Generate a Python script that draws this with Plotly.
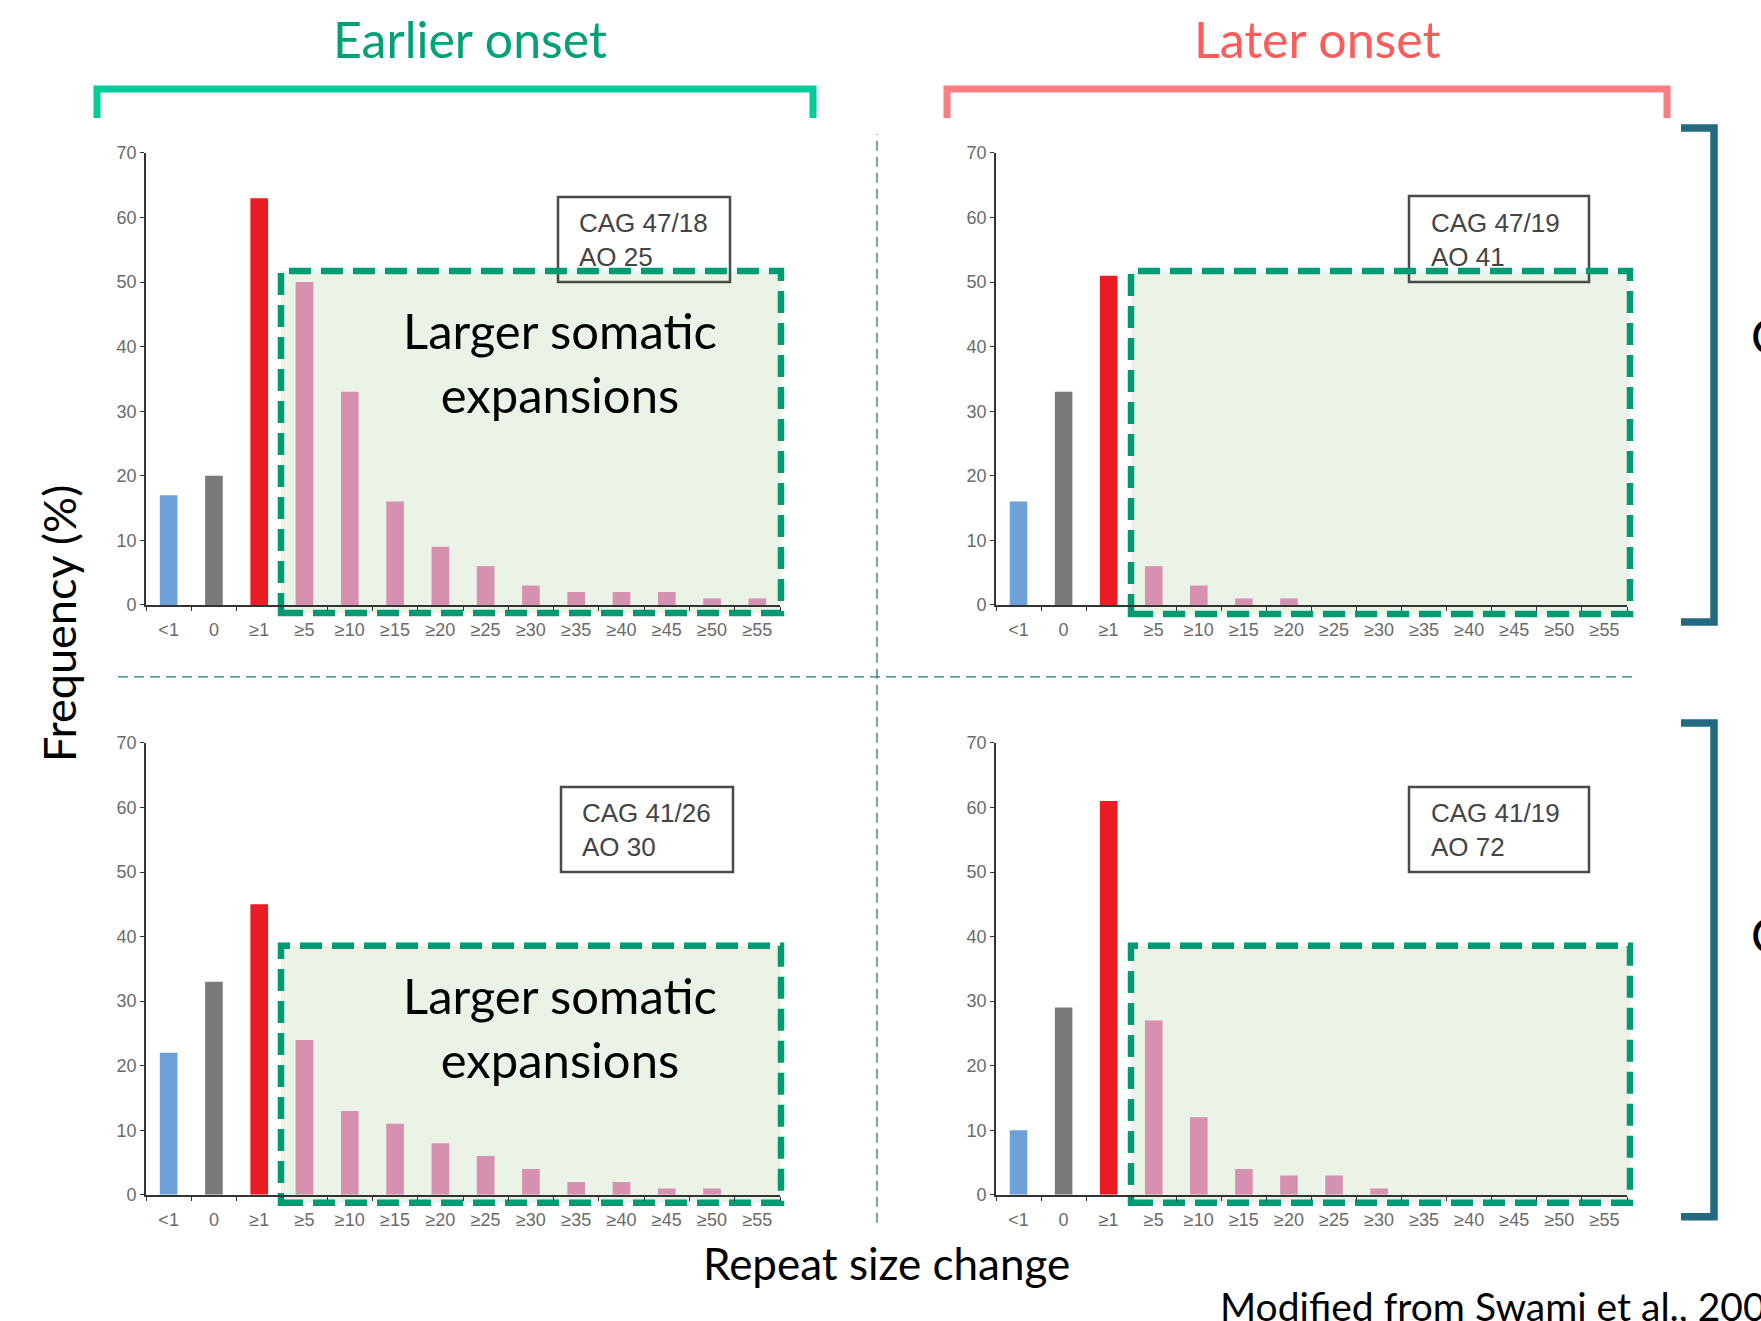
import plotly.graph_objects as go

W, H = 1761, 1321

categories = ["<1", "0", "≥1", "≥5", "≥10", "≥15", "≥20", "≥25", "≥30", "≥35", "≥40", "≥45", "≥50", "≥55"]
top_left = [17, 20, 63, 50, 33, 16, 9, 6, 3, 2, 2, 2, 1, 1]
top_right = [16, 33, 51, 6, 3, 1, 1, 0, 0, 0, 0, 0, 0, 0]
bottom_left = [22, 33, 45, 24, 13, 11, 8, 6, 4, 2, 2, 1, 1, 0]
bottom_right = [10, 29, 61, 27, 12, 4, 3, 3, 1, 0, 0, 0, 0, 0]
panel_labels = ["CAG 47/18<br>AO 25", "CAG 47/19<br>AO 41", "CAG 41/26<br>AO 30", "CAG 41/19<br>AO 72"]
y_ticks = [0, 10, 20, 30, 40, 50, 60, 70]

bar_colors = ["#6EA1DA", "#7A7A7A", "#EC1C24"] + ["#D690B0"] * 11

# small vertical compensation for the capture (content appeared ~1.5% squeezed vertically)
VC, VS = 600.0, 0.985


def px(x):
    return x / W


def py(y):
    yy = VC + (y - VC) / VS
    return 1 - yy / H


fig = go.Figure()

# panel geometry (pixels): x0, x1 of plot area, y top (70), y bottom (0)
panels = [
    (146, 780, 152, 604, top_left),
    (996, 1627, 152, 604, top_right),
    (146, 780, 742, 1194, bottom_left),
    (996, 1627, 742, 1194, bottom_right),
]

tick_font = dict(family="Liberation Sans, Arial", size=18, color="#6A6A6A")

for i, (x0, x1, yt, yb, vals) in enumerate(panels):
    n = i + 1
    xa = "x" if n == 1 else f"x{n}"
    ya = "y" if n == 1 else f"y{n}"
    fig.add_trace(go.Bar(x=categories, y=vals, marker_color=bar_colors, marker_line_width=0,
                         width=0.39, xaxis=xa, yaxis=ya, showlegend=False, hoverinfo="x+y"))
    xk = "xaxis" if n == 1 else f"xaxis{n}"
    yk = "yaxis" if n == 1 else f"yaxis{n}"
    fig.layout[xk] = dict(domain=[px(x0), px(x1)], anchor=ya, type="category",
                          categoryorder="array", categoryarray=categories,
                          range=[-0.5, 13.5], showline=True, linecolor="#333333", linewidth=1.6,
                          ticks="outside", tickson="boundaries", ticklen=4, tickcolor="#333333",
                          tickfont=tick_font, showgrid=False, zeroline=False, fixedrange=True,
                          ticklabelstandoff=8)
    fig.layout[yk] = dict(domain=[py(yb), py(yt)], anchor=xa, range=[0, 70],
                          tickvals=y_ticks, showline=True, linecolor="#333333", linewidth=1.6,
                          ticks="outside", ticklen=4, tickcolor="#333333",
                          tickfont=tick_font, showgrid=False, zeroline=False, fixedrange=True)

shapes = []
annotations = []

# label boxes + green highlighted regions
label_boxes = [(558, 730, 196, 281, 577), (1409, 1589, 195, 281, 1429),
               (561, 733, 786, 871, 580), (1409, 1589, 786, 871, 1429)]
green_boxes = [(281, 781, 270, 612), (1131, 1630, 270, 613),
               (281, 781, 945, 1202), (1131, 1630, 945, 1202)]

for (gx0, gx1, gy0, gy1) in green_boxes:
    shapes.append(dict(type="rect", xref="paper", yref="paper", layer="below",
                       x0=px(gx0), x1=px(gx1), y0=py(gy1), y1=py(gy0),
                       fillcolor="#EBF3E6", line=dict(width=0)))

for (bx0, bx1, by0, by1, tx), lab in zip(label_boxes, panel_labels):
    shapes.append(dict(type="rect", xref="paper", yref="paper", layer="below",
                       x0=px(bx0), x1=px(bx1), y0=py(by1), y1=py(by0),
                       fillcolor="rgba(0,0,0,0)", line=dict(color="#4A4A4A", width=2.5)))
    annotations.append(dict(xref="paper", yref="paper", x=px(tx), y=py((by0 + by1) / 2 + 1),
                            xanchor="left", yanchor="middle", align="left", showarrow=False,
                            text=lab, font=dict(family="Liberation Sans, Arial", size=26, color="#444444")))

for (gx0, gx1, gy0, gy1) in green_boxes:
    shapes.append(dict(type="rect", xref="paper", yref="paper", layer="below",
                       x0=px(gx0), x1=px(gx1), y0=py(gy1), y1=py(gy0),
                       fillcolor="rgba(0,0,0,0)", line=dict(color="#009B72", width=6.5, dash="22px,10px")))

# dividers
shapes.append(dict(type="line", xref="paper", yref="paper", x0=px(877), x1=px(877), y0=py(1222), y1=py(133),
                   line=dict(color="#2E7189", width=1.3, dash="10px,6px")))
shapes.append(dict(type="line", xref="paper", yref="paper", x0=px(118), x1=px(1634), y0=py(676), y1=py(676),
                   line=dict(color="#2E7189", width=1.3, dash="10px,6px")))


def bracket_top(xa, xb, ytop, ybot, color):
    return dict(type="path", xref="paper", yref="paper",
                path=f"M {px(xa)} {py(ybot)} L {px(xa)} {py(ytop)} L {px(xb)} {py(ytop)} L {px(xb)} {py(ybot)}",
                line=dict(color=color, width=7), fillcolor="rgba(0,0,0,0)")


def bracket_right(xs, xv, ya, yb, color):
    return dict(type="path", xref="paper", yref="paper",
                path=f"M {px(xs)} {py(ya)} L {px(xv)} {py(ya)} L {px(xv)} {py(yb)} L {px(xs)} {py(yb)}",
                line=dict(color=color, width=7.5), fillcolor="rgba(0,0,0,0)")


shapes.append(bracket_top(97, 813, 88, 117, "#00CC99"))
shapes.append(bracket_top(947, 1667, 88, 117, "#FF7C80"))
shapes.append(bracket_right(1681, 1714, 127, 621, "#236A80"))
shapes.append(bracket_right(1681, 1714, 722, 1216, "#236A80"))

big = "Lato, Calibri, Carlito, sans-serif"
annotations += [
    dict(xref="paper", yref="paper", x=px(470), y=py(38), text="Earlier onset", showarrow=False,
         xanchor="center", yanchor="middle", font=dict(family=big, size=50, color="#00A078")),
    dict(xref="paper", yref="paper", x=px(1317), y=py(38), text="Later onset", showarrow=False,
         xanchor="center", yanchor="middle", font=dict(family=big, size=50, color="#FF5B5B")),
    dict(xref="paper", yref="paper", x=px(560), y=py(361), text="Larger somatic<br>expansions", showarrow=False,
         xanchor="center", yanchor="middle", font=dict(family=big, size=49, color="#000000")),
    dict(xref="paper", yref="paper", x=px(560), y=py(1026), text="Larger somatic<br>expansions", showarrow=False,
         xanchor="center", yanchor="middle", font=dict(family=big, size=49, color="#000000")),
    dict(xref="paper", yref="paper", x=px(59), y=py(623), text="Frequency (%)", showarrow=False, textangle=-90,
         xanchor="center", yanchor="middle", font=dict(family=big, size=45, color="#000000")),
    dict(xref="paper", yref="paper", x=px(887), y=py(1262), text="Repeat size change", showarrow=False,
         xanchor="center", yanchor="middle", font=dict(family=big, size=44, color="#000000")),
    dict(xref="paper", yref="paper", x=px(1218), y=py(1305), text="Modified from Swami et al., 2009", showarrow=False,
         xanchor="left", yanchor="middle", font=dict(family=big, size=39, color="#000000")),
    dict(xref="paper", yref="paper", x=px(1749), y=py(335), text="CAG 47", showarrow=False,
         xanchor="left", yanchor="middle", font=dict(family=big, size=48, color="#000000")),
    dict(xref="paper", yref="paper", x=px(1749), y=py(934), text="CAG 41", showarrow=False,
         xanchor="left", yanchor="middle", font=dict(family=big, size=48, color="#000000")),
]

fig.update_layout(width=W, height=H, autosize=False, margin=dict(l=0, r=0, t=0, b=0, pad=0),
                  paper_bgcolor="white", plot_bgcolor="rgba(0,0,0,0)",
                  shapes=shapes, annotations=annotations, bargap=0.6, showlegend=False)

page_fix = (
    "var gd=document.getElementById('{plot_id}');"
    "gd.style.position='fixed';gd.style.top='0px';gd.style.left='0px';gd.style.margin='0';"
    "var de=document.documentElement, b=document.body;"
    "de.style.margin='0';de.style.padding='0';b.style.margin='0';b.style.padding='0';"
    "de.style.height='1321px';b.style.height='1321px';"
    "de.style.overflow='hidden';b.style.overflow='hidden';"
)

fig.write_html("out.html", config={"displayModeBar": False}, post_script=page_fix)
